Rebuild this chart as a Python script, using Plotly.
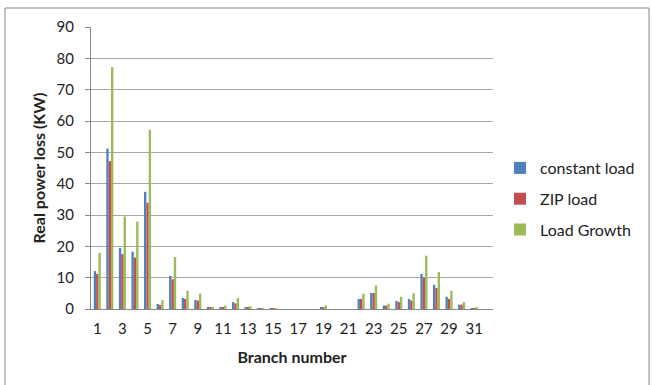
import plotly.graph_objects as go

branches = list(range(1, 33))
constant_load = [12.1, 51.2, 19.5, 18.3, 37.4, 1.6, 10.6, 3.5, 2.9, 0.4, 0.6, 2.2, 0.6, 0.1, 0.1, 0.0,
                 0.0, 0.0, 0.5, 0.0, 0.0, 3.2, 5.1, 1.1, 2.6, 3.2, 11.2, 7.7, 3.9, 1.4, 0.1, 0.0]
zip_load = [11.2, 47.2, 17.5, 16.4, 33.9, 1.3, 9.5, 3.2, 2.7, 0.4, 0.6, 1.8, 0.4, 0.1, 0.1, 0.0,
            0.0, 0.0, 0.6, 0.0, 0.0, 3.2, 5.1, 1.1, 2.2, 2.7, 10.0, 6.7, 3.2, 1.4, 0.1, 0.0]
load_growth = [17.9, 77.2, 29.5, 27.9, 57.2, 2.8, 16.6, 5.8, 4.9, 0.6, 1.1, 3.5, 0.9, 0.3, 0.3, 0.0,
               0.0, 0.0, 1.2, 0.0, 0.0, 4.9, 7.5, 1.7, 3.9, 5.0, 17.0, 11.8, 5.8, 2.2, 0.35, 0.0]
x_ticks = list(range(1, 32, 2))
y_ticks = list(range(0, 91, 10))

series = [
    ("constant load", constant_load, "#4F81BD"),
    ("ZIP load", zip_load, "#C0504D"),
    ("Load Growth", load_growth, "#9BBB59"),
]

fig = go.Figure()
for i, (name, vals, col) in enumerate(series):
    fig.add_trace(go.Bar(x=branches, y=vals, name=name, marker=dict(color=col, line=dict(width=0)),
                         legendgroup=f"g{i}"))

W, H = 652, 385
L, R, T, B = 91, 493, 27, 309
pw, ph = R - L, B - T

def px_x(p):
    return (p - L) / pw

def px_y(p):
    return (B - p) / ph

fig.update_layout(
    width=W, height=H,
    margin=dict(l=L, r=W - R, t=T, b=H - B),
    paper_bgcolor="white", plot_bgcolor="white",
    barmode="group", bargap=0.44, bargroupgap=0,
    font=dict(family="Lato, Open Sans, sans-serif", size=15, color="#222222"),
    showlegend=True,
    legend=dict(x=px_x(500), y=px_y(151), xanchor="left", yanchor="top",
                font=dict(size=16, color="#222222"), tracegroupgap=7,
                itemwidth=30, bgcolor="rgba(0,0,0,0)"),
    xaxis=dict(range=[0.5, 32.5], tickmode="array", tickvals=x_ticks,
               ticktext=[str(t) for t in x_ticks], showgrid=False,
               showline=True, linecolor="#868686", linewidth=1, ticks="",
               tickfont=dict(size=15), zeroline=False, ticklabelstandoff=6,
               title=dict(text="<b>Branch number</b>", font=dict(size=16), standoff=15)),
    yaxis=dict(range=[0, 90], tickmode="array", tickvals=y_ticks, showgrid=True,
               gridcolor="#a6a6a6", gridwidth=1, showline=True, linecolor="#868686",
               linewidth=1, ticks="outside", ticklen=5, tickcolor="#868686",
               tickfont=dict(size=15), zeroline=False, ticklabelstandoff=8,
               title=dict(text="<b>Real power loss (KW)</b>", font=dict(size=16), standoff=6)),
    shapes=[dict(type="rect", xref="paper", yref="paper",
                 x0=px_x(5), x1=px_x(649), y0=px_y(395), y1=px_y(8),
                 line=dict(color="#868686", width=1), fillcolor="rgba(0,0,0,0)", layer="below")],
)

fig.write_html("out.html", config={"displayModeBar": False},
               post_script="document.body.style.margin='0';document.body.style.overflow='hidden';")
